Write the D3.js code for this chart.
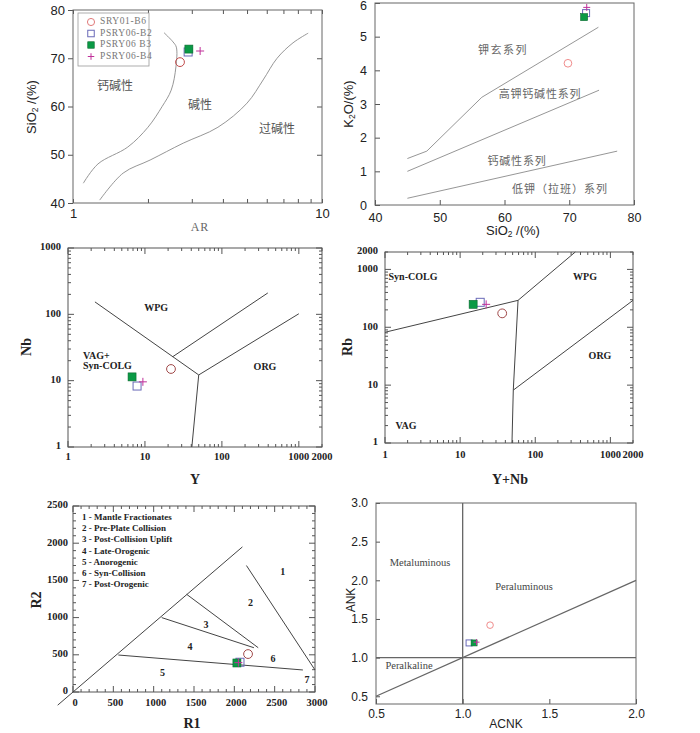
<!DOCTYPE html>
<html>
<head>
<meta charset="utf-8">
<script src="https://cdn.jsdelivr.net/npm/d3@7"></script>
<style>
  body { margin: 0; background: #fff; }
  svg { display: block; }
</style>
</head>
<body>
<svg class="canvas"></svg>
<script>
// samples, drawn in this order (green square sits on the open one)
const samples = ['SRY01-B6', 'PSRY06-B2', 'PSRY06 B3', 'PSRY06-B4'];

// SiO2 - AR
const arAR = [2.69, 2.90, 2.92, 3.24];
const arSiO2 = [69.2, 71.3, 71.9, 71.5];
const calcAlkAR = [1.1, 1.26, 1.66, 2.0, 2.28, 2.48, 2.59, 2.6, 2.52, 2.32];
const calcAlkSiO2 = [44.1, 48.1, 51.6, 55.7, 60, 63.4, 68.2, 72.3, 73.4, 75.3];
const alkAR = [1.28, 1.59, 2.04, 2.77, 3.82, 5.0, 5.8, 6.6, 7.65, 8.8];
const alkSiO2 = [40.6, 46.2, 48.9, 52.4, 55.7, 60.7, 65.5, 70, 73.2, 75.2];

// K2O - SiO2
const kSiO2 = [69.8, 72.6, 72.3, 72.7];
const kK2O = [4.21, 5.70, 5.58, 5.87];
const shoLine = [[45, 1.38], [48, 1.6], [56.5, 3.2], [74.5, 5.28]];
const highKLine = [[45, 1.0], [74.6, 3.41]];
const lowKLine = [[45, 0.2], [77.4, 1.6]];

// Nb - Y
const nbY = [21.8, 7.9, 6.8, 9.4];
const nbNb = [15, 8.3, 11.4, 9.6];
const nbLines = [
    [[2.24, 154], [50, 12.2]],
    [[50, 12.2], [1000, 102]],
    [[23, 23], [395, 210]],
    [[50, 12.2], [40.7, 1]]
];

// Rb - (Y+Nb)
const rbYNb = [36.3, 18.5, 14.9, 22.2];
const rbRb = [174, 270, 249, 249];
const rbLines = [
    [[1, 82], [59, 292]],
    [[59, 292], [341, 2000]],
    [[59, 292], [51, 8.2], [49, 1]],
    [[51, 8.2], [2000, 292]]
];

// R1 - R2
const r1 = [2170, 2070, 2032, 2050];
const r2 = [510, 400, 390, 395];
const rLines = [
    [[-190, -177], [2100, 1950]],
    [[2150, 1700], [3000, 296]],
    [[1409, 1313], [2296, 595]],
    [[1100, 1000], [2243, 595]],
    [[562, 497], [2850, 296]]
];
const rFields = ['1 - Mantle Fractionates', '2 - Pre-Plate Collision', '3 - Post-Collision Uplift',
    '4 - Late-Orogenic', '5 - Anorogenic', '6 - Syn-Collision', '7 - Post-Orogenic'];
const rFieldNums = [[2600, 1600], [2200, 1190], [1650, 890], [1450, 590], [1110, 240], [2480, 430], [2900, 150]];

// ANK - ACNK
const acnk = [1.158, 1.037, 1.066, 1.08];
const ank = [1.42, 1.19, 1.19, 1.20];
const aLines = [
    [[1, 0.4], [1, 3]],
    [[0.5, 1], [2, 1]],
    [[0.5, 0.5], [2, 2]]
];

const w = 700;
const h = 733;
const sans = '"Liberation Sans", Arial, sans-serif';
const serif = '"Liberation Serif", "Times New Roman", serif';
const cjk = '"Noto Sans CJK SC", sans-serif';

const svg = d3.select('svg.canvas').attr('width', w).attr('height', h);

let frame = (g, x, y, color) => {
    g.append('rect')
        .attr('x', x.range()[0])
        .attr('y', y.range()[1])
        .attr('width', x.range()[1] - x.range()[0])
        .attr('height', y.range()[0] - y.range()[1])
        .attr('fill', 'none')
        .attr('stroke', color)
        .attr('stroke-width', 1);
}

let styleAxis = (a, font, size, weight, color) => {
    a.select('.domain').remove();
    a.selectAll('line').attr('stroke', color);
    a.selectAll('text')
        .attr('font-family', font)
        .attr('font-size', size)
        .attr('font-weight', weight)
        .attr('fill', '#222');
}

let drawLines = (g, x, y, lines, color, width) => {
    let line = d3.line().x(d => x(d[0])).y(d => y(d[1]));
    lines.forEach(l => {
        g.append('path')
            .attr('d', line(l))
            .attr('fill', 'none')
            .attr('stroke', color)
            .attr('stroke-width', width);
    });
}

let drawPoints = (g, x, y, xs, ys, s, circleColor) => {
    let px = i => x(xs[i]);
    let py = i => y(ys[i]);
    g.append('circle')
        .attr('cx', px(0)).attr('cy', py(0)).attr('r', s * 0.55)
        .attr('fill', 'none').attr('stroke', circleColor).attr('stroke-width', 1);
    g.append('rect')
        .attr('x', px(1) - s / 2).attr('y', py(1) - s / 2).attr('width', s).attr('height', s)
        .attr('fill', 'none').attr('stroke', '#6a6ab8').attr('stroke-width', 1);
    g.append('rect')
        .attr('x', px(2) - s / 2).attr('y', py(2) - s / 2).attr('width', s).attr('height', s)
        .attr('fill', '#0a9a45').attr('stroke', '#0b6a30').attr('stroke-width', 0.6);
    g.append('path')
        .attr('d', `M${px(3) - s / 2},${py(3)}H${px(3) + s / 2}M${px(3)},${py(3) - s / 2}V${py(3) + s / 2}`)
        .attr('stroke', '#c0309a').attr('stroke-width', 1);
}

let label = (g, txt, x, y, opts) => {
    let t = g.append('text')
        .attr('x', x).attr('y', y)
        .attr('text-anchor', opts.anchor || 'middle')
        .attr('dominant-baseline', 'middle')
        .attr('font-family', opts.font || serif)
        .attr('font-size', opts.size || 11)
        .attr('font-weight', opts.weight || 'normal')
        .attr('fill', opts.color || '#222')
        .text(txt);
    if (opts.rotate) t.attr('transform', `rotate(-90, ${x}, ${y})`);
    return t;
}

let subLabel = (g, pre, sub, post, x, y, size, rotate) => {
    let t = g.append('text')
        .attr('x', x).attr('y', y)
        .attr('text-anchor', 'middle')
        .attr('dominant-baseline', 'middle')
        .attr('font-family', sans)
        .attr('font-size', size)
        .attr('fill', '#222');
    t.append('tspan').text(pre);
    t.append('tspan').attr('font-size', size * 0.65).attr('dy', 3).text(sub);
    t.append('tspan').attr('dy', -3).text(post);
    if (rotate) t.attr('transform', `rotate(-90, ${x}, ${y})`);
}

// log ticks on all four sides, pointing in
let logTicks = (g, x, y, color) => {
    let minor = (scale) => {
        let [a, b] = scale.domain();
        let out = [];
        for (let e = Math.floor(Math.log10(a)); e <= Math.ceil(Math.log10(b)); e++) {
            for (let m = 1; m < 10; m++) {
                let v = m * Math.pow(10, e);
                if (v >= a && v <= b) out.push(v);
            }
        }
        return out;
    };
    let size = v => (Math.abs(Math.log10(v) - Math.round(Math.log10(v))) < 1e-9 ? 6 : 3);
    let [x0, x1] = x.range();
    let [y0, y1] = y.range();
    minor(x).forEach(v => {
        g.append('line').attr('x1', x(v)).attr('x2', x(v)).attr('y1', y0).attr('y2', y0 - size(v)).attr('stroke', color);
        g.append('line').attr('x1', x(v)).attr('x2', x(v)).attr('y1', y1).attr('y2', y1 + size(v)).attr('stroke', color);
    });
    minor(y).forEach(v => {
        g.append('line').attr('y1', y(v)).attr('y2', y(v)).attr('x1', x0).attr('x2', x0 + size(v)).attr('stroke', color);
        g.append('line').attr('y1', y(v)).attr('y2', y(v)).attr('x1', x1).attr('x2', x1 - size(v)).attr('stroke', color);
    });
}

// ---------- panel 1 : SiO2 vs AR ----------
let drawAR = () => {
    let g = svg.append('g');
    let x = d3.scaleLog().domain([1, 10]).range([73, 322]);
    let y = d3.scaleLinear().domain([40, 80]).range([203, 10]);

    let xb = g.append('g').attr('transform', 'translate(0,203)')
        .call(d3.axisBottom(x).tickValues(d3.range(1, 11)).tickFormat(d => (d === 1 || d === 10) ? d : '').tickSizeInner(-4).tickSizeOuter(0).tickPadding(6));
    styleAxis(xb, sans, 13, 'normal', '#555');
    let xt = g.append('g').attr('transform', 'translate(0,10)')
        .call(d3.axisTop(x).tickValues(d3.range(1, 11)).tickFormat('').tickSizeInner(-4).tickSizeOuter(0));
    styleAxis(xt, sans, 13, 'normal', '#555');
    let yl = g.append('g').attr('transform', 'translate(73,0)')
        .call(d3.axisLeft(y).tickValues([40, 50, 60, 70, 80]).tickFormat(d3.format('d')).tickSizeInner(5).tickSizeOuter(0).tickPadding(3));
    styleAxis(yl, sans, 13, 'normal', '#555');
    let yr = g.append('g').attr('transform', 'translate(322,0)')
        .call(d3.axisRight(y).tickValues([50, 60, 70]).tickFormat('').tickSizeInner(-5).tickSizeOuter(0));
    styleAxis(yr, sans, 13, 'normal', '#555');
    frame(g, x, y, '#666');

    let curve = d3.line().x(d => x(d[0])).y(d => y(d[1])).curve(d3.curveCatmullRom.alpha(0.5));
    g.append('path').attr('d', curve(d3.zip(calcAlkAR, calcAlkSiO2)))
        .attr('fill', 'none').attr('stroke', '#8a8a8a').attr('stroke-width', 0.9);
    g.append('path').attr('d', curve(d3.zip(alkAR, alkSiO2)))
        .attr('fill', 'none').attr('stroke', '#8a8a8a').attr('stroke-width', 0.9);

    label(g, '钙碱性', 115, 87, { font: cjk, size: 12, color: '#555' });
    label(g, '碱性', 200, 106, { font: cjk, size: 12, color: '#555' });
    label(g, '过碱性', 277, 130, { font: cjk, size: 12, color: '#555' });

    // legend
    g.append('rect').attr('x', 78).attr('y', 13).attr('width', 71).attr('height', 53)
        .attr('fill', '#fff').attr('stroke', '#999').attr('stroke-width', 0.8);
    let rowY = [22, 33.5, 45, 56.5];
    let lx = x.invert(91);
    let lg = g.append('g');
    drawPoints(lg, x, y, [lx, lx, lx, lx], rowY.map(v => y.invert(v)), 6.5, '#e07a7a');
    samples.forEach((s, i) => {
        label(g, s, 100, rowY[i], { anchor: 'start', size: 9.5, color: '#777' })
            .attr('letter-spacing', 0.6);
    });

    drawPoints(g, x, y, arAR, arSiO2, 8, '#c04848');

    subLabel(g, 'SiO', '2', ' /(%)', 33, 107, 13, true);
    label(g, 'AR', 200, 228, { size: 12, color: '#666' }).attr('letter-spacing', 1);
}

// ---------- panel 2 : K2O vs SiO2 ----------
let drawK2O = () => {
    let g = svg.append('g');
    let x = d3.scaleLinear().domain([40, 80]).range([375, 634]);
    let y = d3.scaleLinear().domain([0, 6]).range([205, 3]);

    let xb = g.append('g').attr('transform', 'translate(0,205)')
        .call(d3.axisBottom(x).tickValues([40, 50, 60, 70, 80]).tickFormat(d3.format('d')).tickSizeInner(-5).tickSizeOuter(0).tickPadding(8));
    styleAxis(xb, sans, 12.5, 'normal', '#555');
    let yl = g.append('g').attr('transform', 'translate(375,0)')
        .call(d3.axisLeft(y).tickValues(d3.range(0, 7)).tickFormat(d3.format('d')).tickSizeInner(-5).tickSizeOuter(0).tickPadding(8));
    styleAxis(yl, sans, 12.5, 'normal', '#555');
    // keep the top label inside the page
    yl.selectAll('.tick').filter(d => d === 6).select('text').attr('dy', '0.55em');
    frame(g, x, y, '#666');

    drawLines(g, x, y, [shoLine, highKLine, lowKLine], '#8a8a8a', 0.9);

    label(g, '钾玄系列', 503, 51, { font: cjk, size: 11, color: '#666' }).attr('letter-spacing', 1.5);
    label(g, '高钾钙碱性系列', 540, 95, { font: cjk, size: 11, color: '#666' }).attr('letter-spacing', 0.8);
    label(g, '钙碱性系列', 517, 162, { font: cjk, size: 11, color: '#666' }).attr('letter-spacing', 0.8);
    label(g, '低钾（拉班）系列', 560, 190, { font: cjk, size: 11, color: '#666' }).attr('letter-spacing', 1);

    drawPoints(g, x, y, kSiO2, kK2O, 7, '#f08c8c');

    subLabel(g, 'K', '2', 'O/(%)', 350, 104, 13, true);
    subLabel(g, 'SiO', '2', ' /(%)', 513, 232, 13, false);
}

// ---------- panel 3 : Nb vs Y ----------
let drawNb = () => {
    let g = svg.append('g');
    let x = d3.scaleLog().domain([1, 2000]).range([68, 322]);
    let y = d3.scaleLog().domain([1, 1000]).range([447, 248]);

    logTicks(g, x, y, '#555');
    frame(g, x, y, '#555');
    [1, 10, 100, 1000, 2000].forEach(v => label(g, v, x(v), 458, { size: 10.5, weight: 'bold' }));
    [1, 10, 100, 1000].forEach(v => label(g, v, 61, y(v), { size: 10.5, weight: 'bold', anchor: 'end' }));

    drawLines(g, x, y, nbLines, '#444', 1);

    label(g, 'WPG', x(14), y(120), { size: 10, weight: 'bold' });
    label(g, 'VAG+', 83, 357, { size: 10, weight: 'bold', anchor: 'start' });
    label(g, 'Syn-COLG', 83, 367, { size: 10, weight: 'bold', anchor: 'start' });
    label(g, 'ORG', 265, 368, { size: 10, weight: 'bold' });

    drawPoints(g, x, y, nbY, nbNb, 8, '#a04848');

    label(g, 'Nb', 28, 347, { size: 14, weight: 'bold', rotate: true });
    label(g, 'Y', 195, 481, { size: 14, weight: 'bold' });
}

// ---------- panel 4 : Rb vs Y+Nb ----------
let drawRb = () => {
    let g = svg.append('g');
    let x = d3.scaleLog().domain([1, 2000]).range([385, 633]);
    let y = d3.scaleLog().domain([1, 2000]).range([443, 252]);

    logTicks(g, x, y, '#555');
    frame(g, x, y, '#555');
    [1, 10, 100, 1000, 2000].forEach(v => label(g, v, x(v), 456, { size: 10.5, weight: 'bold' }));
    [1, 10, 100, 1000, 2000].forEach(v => label(g, v, 378, y(v), { size: 10.5, weight: 'bold', anchor: 'end' }));

    drawLines(g, x, y, rbLines, '#444', 1);

    label(g, 'Syn-COLG', 413, 278, { size: 10, weight: 'bold' });
    label(g, 'WPG', 585, 278, { size: 10, weight: 'bold' });
    label(g, 'ORG', 600, 357, { size: 10, weight: 'bold' });
    label(g, 'VAG', 406, 427, { size: 10, weight: 'bold' });

    drawPoints(g, x, y, rbYNb, rbRb, 8, '#a04848');

    label(g, 'Rb', 349, 347, { size: 14, weight: 'bold', rotate: true });
    label(g, 'Y+Nb', 510, 481, { size: 14, weight: 'bold' });
}

// ---------- panel 5 : R2 vs R1 ----------
let drawR = () => {
    let g = svg.append('g');
    let x = d3.scaleLinear().domain([0, 3000]).range([73, 315]);
    let y = d3.scaleLinear().domain([0, 2500]).range([692, 506]);

    let tk = d3.range(0, 3001, 100);
    let ty = d3.range(0, 2501, 100);
    let sz = v => (v % 500 === 0 ? 6 : 3);
    tk.forEach(v => {
        g.append('line').attr('x1', x(v)).attr('x2', x(v)).attr('y1', 692).attr('y2', 692 - sz(v)).attr('stroke', '#555');
        g.append('line').attr('x1', x(v)).attr('x2', x(v)).attr('y1', 506).attr('y2', 506 + sz(v)).attr('stroke', '#555');
    });
    ty.forEach(v => {
        g.append('line').attr('y1', y(v)).attr('y2', y(v)).attr('x1', 73).attr('x2', 73 + sz(v)).attr('stroke', '#555');
        g.append('line').attr('y1', y(v)).attr('y2', y(v)).attr('x1', 315).attr('x2', 315 - sz(v)).attr('stroke', '#555');
    });
    frame(g, x, y, '#555');
    d3.range(0, 3001, 500).forEach(v => label(g, v, x(v) + 2, 704, { size: 10.5, weight: 'bold' }));
    d3.range(0, 2501, 500).forEach(v => label(g, v, 68, y(v), { size: 10.5, weight: 'bold', anchor: 'end' }));

    drawLines(g, x, y, rLines, '#444', 1);

    rFields.forEach((f, i) => label(g, f, 82, 518 + i * 11.2, { size: 9, weight: 'bold', anchor: 'start' }));
    rFieldNums.forEach((p, i) => label(g, i + 1, x(p[0]), y(p[1]), { size: 10, weight: 'bold' }));

    drawPoints(g, x, y, r1, r2, 8, '#a04848');

    label(g, 'R2', 38, 600, { size: 14, weight: 'bold', rotate: true });
    label(g, 'R1', 192, 725, { size: 14, weight: 'bold' });
}

// ---------- panel 6 : ANK vs ACNK ----------
let drawANK = () => {
    let g = svg.append('g');
    let x = d3.scaleLinear().domain([0.5, 2.0]).range([376, 636]);
    let y = d3.scaleLinear().domain([0.4, 3.0]).range([704, 503]);

    let xb = g.append('g').attr('transform', 'translate(0,704)')
        .call(d3.axisBottom(x).tickValues([0.5, 1.0, 1.5, 2.0]).tickFormat(d3.format('.1f')).tickSizeInner(-5).tickSizeOuter(0).tickPadding(5));
    styleAxis(xb, sans, 12, 'normal', '#555');
    let yl = g.append('g').attr('transform', 'translate(376,0)')
        .call(d3.axisLeft(y).tickValues([0.5, 1.0, 1.5, 2.0, 2.5, 3.0]).tickFormat(d3.format('.1f')).tickSizeInner(-4).tickSizeOuter(0).tickPadding(8));
    styleAxis(yl, sans, 12, 'normal', '#555');
    frame(g, x, y, '#666');

    drawLines(g, x, y, aLines, '#666', 1.3);

    label(g, 'Metaluminous', 420, 564, { size: 10.5, color: '#444' });
    label(g, 'Peraluminous', 524, 588, { size: 10.5, color: '#444' });
    label(g, 'Peralkaline', 409, 667, { size: 10.5, color: '#444' });

    drawPoints(g, x, y, acnk, ank, 6, '#f08c8c');

    label(g, 'ANK', 352, 600, { font: sans, size: 12, rotate: true });
    label(g, 'ACNK', 506, 725, { font: sans, size: 12 });
}

drawAR();
drawK2O();
drawNb();
drawRb();
drawR();
drawANK();
</script>
</body>
</html>
